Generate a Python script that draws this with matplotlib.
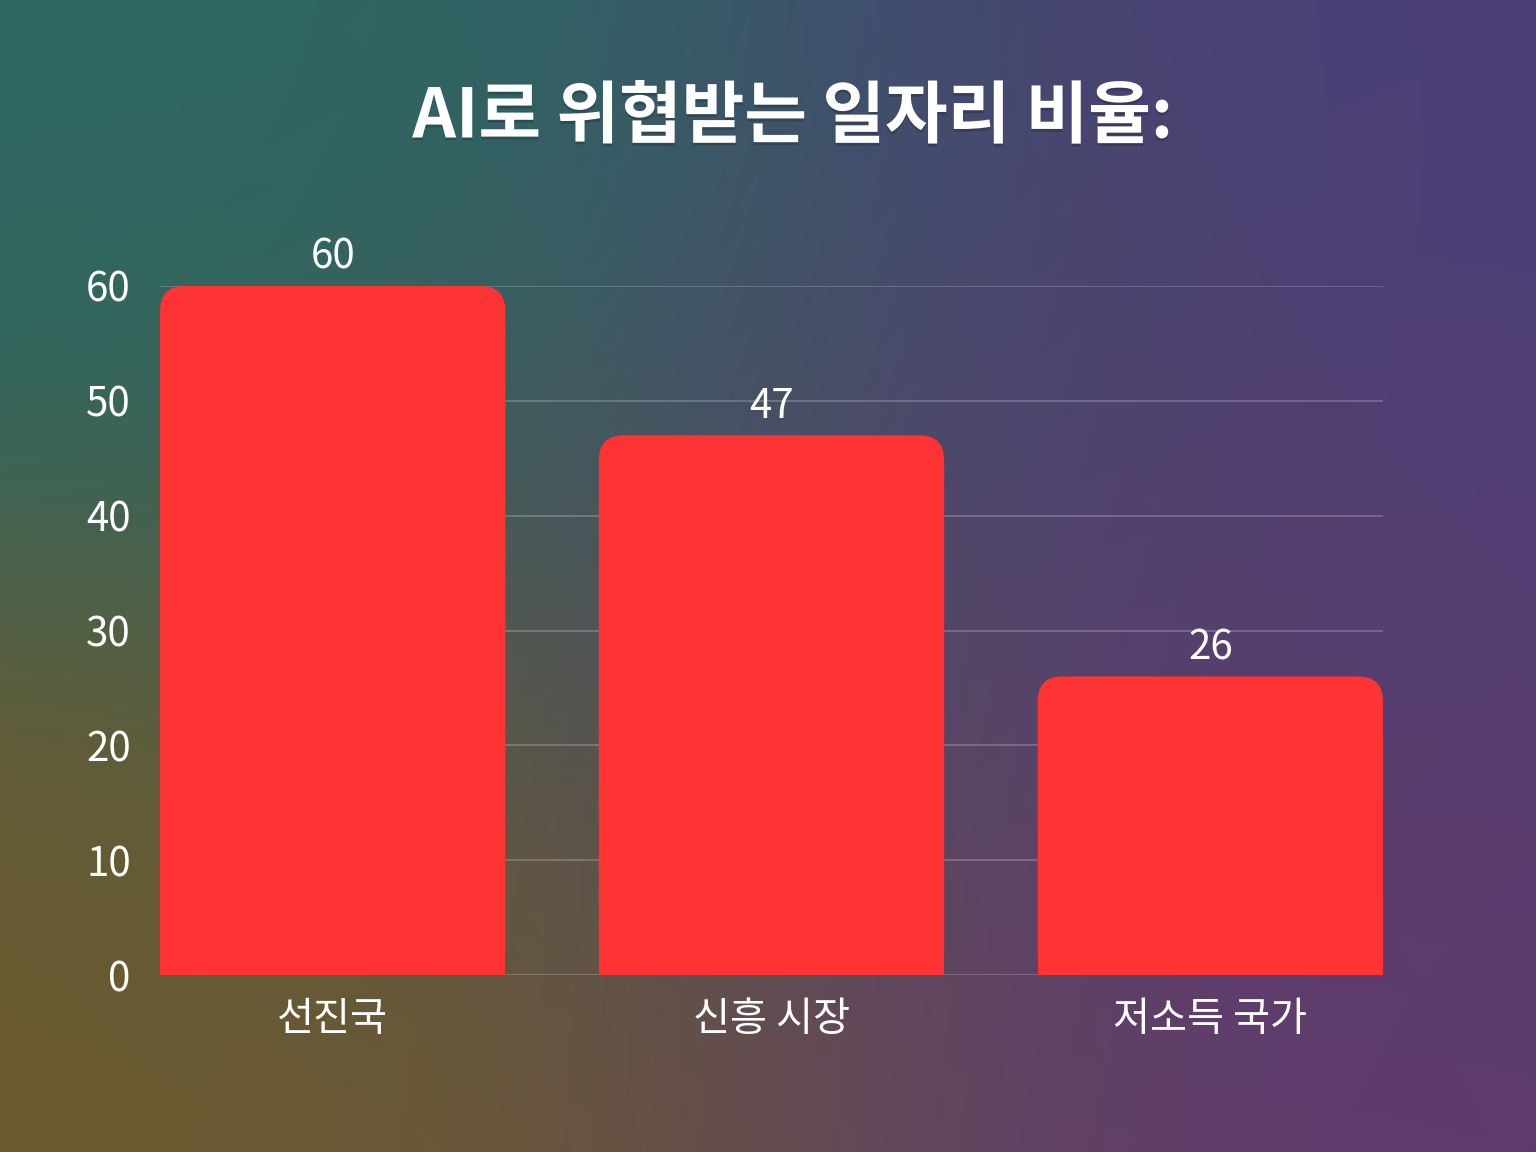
import numpy as np
import matplotlib
matplotlib.use("Agg")
import matplotlib.pyplot as plt
from matplotlib.patches import FancyBboxPatch, Rectangle
import matplotlib.patheffects as pe

plt.rcParams['font.family'] = ['Noto Sans CJK KR', 'DejaVu Sans']

title = "AI로 위협받는 일자리 비율:"
categories = ["선진국", "신흥 시장", "저소득 국가"]
values = [60, 47, 26]
yticks = [0, 10, 20, 30, 40, 50, 60]

W, H = 1536, 1152
fig = plt.figure(figsize=(W / 100, H / 100), dpi=100)

# background gradient
bg = fig.add_axes([0, 0, 1, 1])
bg.set_axis_off()
yy, xx = np.mgrid[0:H, 0:W]
blobs = [
    ((560, 300), 330, (0x28, 0x69, 0x62)),
    ((0, 0), 300, (0x2f, 0x68, 0x62)),
    ((520, 900), 330, (0x6c, 0x5c, 0x2e)),
    ((0, 1152), 300, (0x6a, 0x5a, 0x30)),
    ((1350, 200), 420, (0x4a, 0x3e, 0x76)),
    ((1150, 950), 380, (0x63, 0x3a, 0x6e)),
    ((950, 520), 280, (0x52, 0x40, 0x70)),
]
num = np.zeros((H, W, 3))
den = np.zeros((H, W))
for (cx, cy), s, c in blobs:
    w = np.exp(-((xx - cx) ** 2 + (yy - cy) ** 2) / (2 * s * s))
    num += w[..., None] * np.array(c) / 255.0
    den += w
img = num / den[..., None]
bg.imshow(img, extent=[0, 1, 0, 1], aspect='auto', origin='upper')

ax = fig.add_axes([160 / W, 1 - 975 / H, (1383 - 160) / W, (975 - 286) / H])
ax.patch.set_alpha(0)
n = len(categories)
width = 0.787
ax.set_xlim(-width / 2, n - 1 + width / 2)
ax.set_ylim(0, 60)
for s in ax.spines.values():
    s.set_visible(False)

ax.set_yticks(yticks)
ax.set_yticklabels([str(t) for t in yticks])
ax.set_xticks(range(n))
ax.set_xticklabels(categories)
ax.tick_params(axis='both', length=0, colors='white', labelsize=29)
ax.tick_params(axis='y', pad=21)
ax.tick_params(axis='x', pad=17)
for t in yticks:
    ax.axhline(t, color='white', alpha=0.22, lw=1.3, zorder=0)

fig.canvas.draw()
# rounding radius in data units (25 px)
p0 = ax.transData.inverted().transform((0, 0))
p1 = ax.transData.inverted().transform((25, 25))
rx = abs(p1[0] - p0[0])
ry = abs(p1[1] - p0[1])
color = '#fe3434'
for i, v in enumerate(values):
    x0 = i - width / 2
    fb = FancyBboxPatch((x0, 0), width, v,
                        boxstyle=f"round,pad=0,rounding_size={rx}",
                        mutation_aspect=ry / rx,
                        facecolor=color, edgecolor='none', zorder=2)
    ax.add_patch(fb)
    ax.add_patch(Rectangle((x0, 0), width, v - ry * 1.2, facecolor=color,
                           edgecolor='none', zorder=2))
    ax.annotate(str(v), (i, v), xytext=(0, 6), textcoords='offset points',
                ha='center', va='bottom', color='white', fontsize=29,
                annotation_clip=False)

fig.text(793 / W, 1 - 118 / H, title, ha='center', va='center',
         color='white', fontsize=49, fontweight='bold',
         path_effects=[pe.withSimplePatchShadow(offset=(0, -2), shadow_rgbFace='black', alpha=0.18)])

fig.savefig("out.png", dpi=100)
